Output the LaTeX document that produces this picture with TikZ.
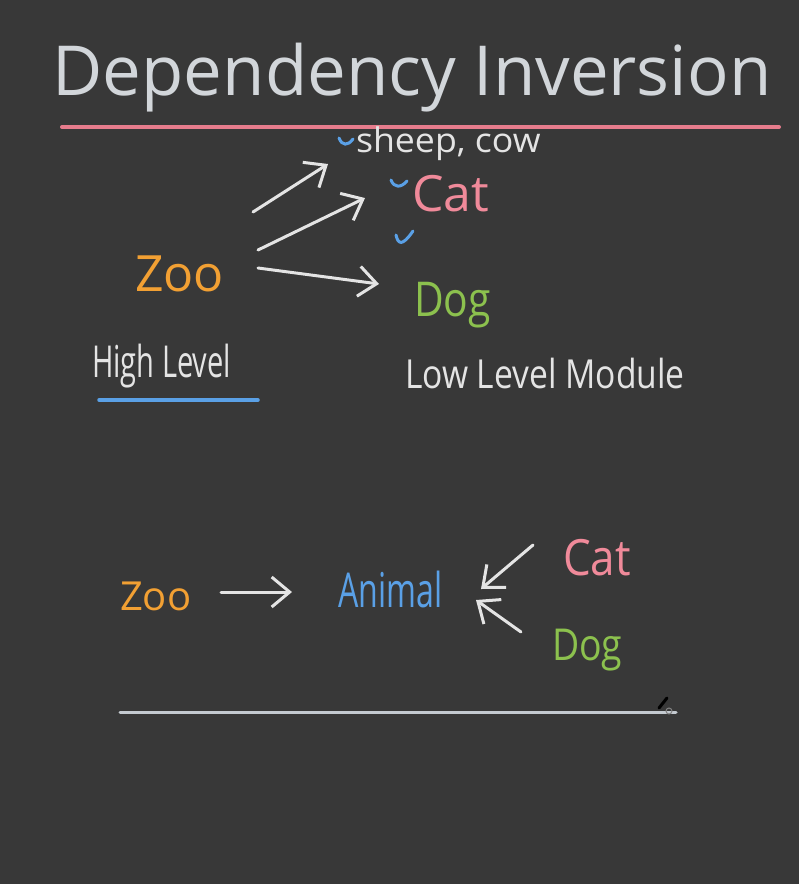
\documentclass[tikz,border=0pt]{standalone}
\usepackage{fontspec}
\setmainfont{Open Sans}
\usetikzlibrary{arrows.meta}
\definecolor{bg}{HTML}{383838}
\definecolor{titlegray}{HTML}{D2D6DA}
\definecolor{inkwhite}{HTML}{E4E4E4}
\definecolor{inkpink}{HTML}{F08A9A}
\definecolor{inkorange}{HTML}{F2A033}
\definecolor{inkgreen}{HTML}{8CC14E}
\definecolor{inkblue}{HTML}{5AA0E6}
\definecolor{rulepink}{HTML}{E67C8C}
\definecolor{rulegray}{HTML}{C4CAD0}
\newcommand{\hsz}[2]{\fontsize{#1}{#2}\selectfont}
\begin{document}
\begin{tikzpicture}[x=1pt,y=-1pt,
  hand/.style={inner sep=0pt, outer sep=0pt, anchor=base west},
  arr/.style={draw=inkwhite, line width=3pt, line cap=round, line join=round,
    -{Straight Barb[length=18pt,width=30pt,line width=3pt]}},
  tick/.style={draw=inkblue, line width=3pt, line cap=round, line join=round},
  rule/.style={line width=#1, line cap=round}]
\fill[bg] (0,0) rectangle (799,884);
\useasboundingbox (0,0) rectangle (799,884);

% title
\node[anchor=base, inner sep=0pt, text=titlegray, font=\hsz{69}{80}] (title) at (412,95) {Dependency Inversion};
\draw[rule=4pt, rulepink] (62,127) -- (779,127);

% top part
\node[hand, text=inkwhite, font=\hsz{34}{40}] (sheep) at (356,152) {\scalebox{1.05}[1]{sheep, cow}};
\node[hand, text=inkpink, font=\hsz{50}{56}] (cat1) at (412,211) {Cat};
\node[hand, text=inkgreen, font=\hsz{48}{56}] (dog1) at (414,316) {\scalebox{0.85}[1]{Dog}};
\node[hand, text=inkorange, font=\hsz{50}{56}] (zoo1) at (135,291) {Zoo};
\node[hand, text=inkwhite, font=\hsz{44}{50}] (high) at (92,377) {\scalebox{0.66}[1]{High Level}};
\node[hand, text=inkwhite, font=\hsz{40}{46}] (low) at (405,388) {\scalebox{0.84}[1]{Low Level Module}};
\draw[rule=3.5pt, inkblue] (99,400) -- (258,400);

% ticks
\draw[tick] (339,138) .. controls (342,146) and (348,146) .. (353,139);
\draw[tick] (391,180) .. controls (394,188) and (401,188) .. (407,181);
\draw[tick] (396,235) .. controls (398,244) and (402,247) .. (413,231);

% top arrows
\coordinate (a1s) at (253,212);
\coordinate (a1e) at (328,164);
\coordinate (a2s) at (258,250);
\coordinate (a2e) at (365,198);
\coordinate (a3s) at (258,268);
\coordinate (a3e) at (379,284);
\draw[arr] (a1s) -- (a1e);
\draw[arr] (a2s) -- (a2e);
\draw[arr] (a3s) -- (a3e);

% bottom part
\node[hand, text=inkorange, font=\hsz{40}{46}] (zoo2) at (120,610) {Zoo};
\node[hand, text=inkblue, font=\hsz{48}{54}] (animal) at (338,607) {\scalebox{0.67}[1]{Animal}};
\node[hand, text=inkpink, font=\hsz{50}{56}] (cat2) at (563,575) {\scalebox{0.88}[1]{Cat}};
\node[hand, text=inkgreen, font=\hsz{44}{50}] (dog2) at (552,660) {\scalebox{0.85}[1]{Dog}};

\coordinate (b1s) at (221,592);
\coordinate (b1e) at (292,592);
\coordinate (b2s) at (533,545);
\coordinate (b2e) at (481,589);
\coordinate (b3s) at (521,632);
\coordinate (b3e) at (476,600);
\draw[arr] (b1s) -- (b1e);
\draw[arr] (b2s) -- (b2e);
\draw[arr] (b3s) -- (b3e);

\draw[rule=3pt, rulegray] (120,712) -- (676,712);
% pen cursor
\draw[line width=3pt, black, line cap=round] (659,708) -- (667,698);
\draw[line width=1pt, gray] (669,711) circle (3);
\end{tikzpicture}
\end{document}
